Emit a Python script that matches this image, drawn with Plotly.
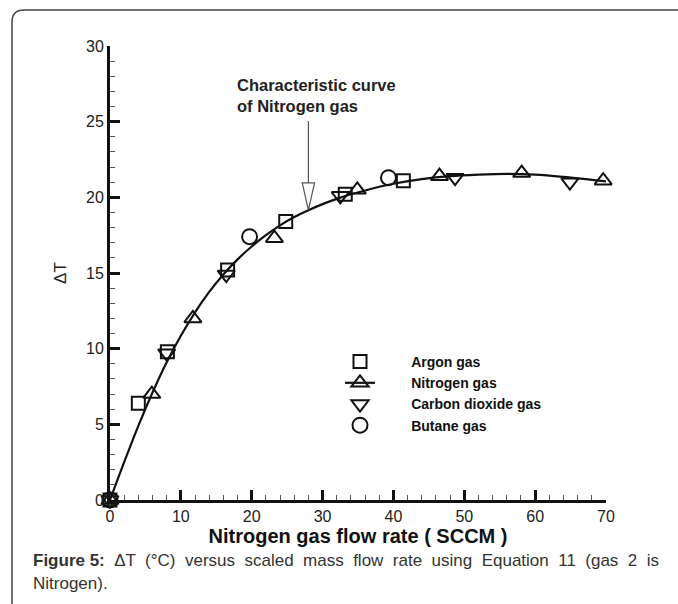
import plotly.graph_objects as go

# ---- data ----
argon_x = [0, 4.0, 8.1, 16.6, 24.8, 33.2, 41.4]
argon_y = [0, 6.4, 9.8, 15.2, 18.4, 20.2, 21.1]

nitrogen_x = [0, 5.9, 11.7, 23.2, 34.9, 46.5, 58.1, 69.6]
nitrogen_y = [0, 7.0, 12.0, 17.3, 20.5, 21.4, 21.6, 21.1]

co2_x = [0, 8.0, 16.4, 32.5, 48.7, 64.9]
co2_y = [0, 9.7, 14.9, 20.1, 21.3, 21.0]

butane_x = [0, 19.7, 39.3]
butane_y = [0, 17.4, 21.3]

# characteristic curve of nitrogen
curve_x = [0, 2, 4, 6, 8, 10, 12, 14, 16, 18, 20, 22, 24, 26, 28, 30, 32, 34, 36, 38, 40, 44, 48, 52, 56, 60, 64, 70]
curve_y = [0, 2.5, 4.9, 7.1, 9.1, 10.85, 12.4, 13.75, 14.9, 15.9, 16.75, 17.5, 18.15, 18.7, 19.15, 19.55,
           19.9, 20.2, 20.45, 20.7, 20.9, 21.2, 21.4, 21.5, 21.55, 21.5, 21.35, 21.05]

x_ticks = [0, 10, 20, 30, 40, 50, 60, 70]
y_ticks = [0, 5, 10, 15, 20, 25, 30]

legend_names = ["Argon gas", "Nitrogen gas", "Carbon dioxide gas", "Butane gas"]

FONT = "Liberation Sans, Arial, sans-serif"
BLK = "#111111"
PAD = "\u00a0" * 8

fig = go.Figure()

fig.add_trace(go.Scatter(
    x=curve_x, y=curve_y, mode="lines", line=dict(color=BLK, width=2.2, shape="spline"),
    showlegend=False, hoverinfo="skip", cliponaxis=False))

mk = dict(color=BLK, line=dict(color=BLK, width=2))
fig.add_trace(go.Scatter(
    x=argon_x, y=argon_y, mode="markers", name=PAD + f"<b>{legend_names[0]}</b>",
    marker=dict(symbol="square-open", size=13, **mk), cliponaxis=False))
fig.add_trace(go.Scatter(
    x=nitrogen_x, y=nitrogen_y, mode="markers", name="n2", showlegend=False,
    marker=dict(symbol="triangle-up-open", size=15, **mk), cliponaxis=False))
fig.add_trace(go.Scatter(
    x=[None], y=[None], mode="lines+markers", name=PAD + f"<b>{legend_names[1]}</b>",
    line=dict(color=BLK, width=2.2),
    marker=dict(symbol="triangle-up-open", size=15, **mk)))
fig.add_trace(go.Scatter(
    x=co2_x, y=co2_y, mode="markers", name=PAD + f"<b>{legend_names[2]}</b>",
    marker=dict(symbol="triangle-down-open", size=15, **mk), cliponaxis=False))
fig.add_trace(go.Scatter(
    x=butane_x, y=butane_y, mode="markers", name=PAD + f"<b>{legend_names[3]}</b>",
    marker=dict(symbol="circle-open", size=15, **mk), cliponaxis=False))

L, R, T, B = 110, 72, 46, 104
W, H = 678, 604
pw, ph = W - L - R, H - T - B

def px(xp):
    return (xp - L) / pw

def py(yp):
    return 1 - (yp - T) / ph

axis_common = dict(
    showgrid=False, zeroline=False, showline=True, linecolor=BLK, linewidth=3,
    ticks="inside", tickcolor=BLK, tickwidth=2.5, ticklen=10,
    tickfont=dict(family=FONT, size=16, color="#222"),
    mirror=False,
)
fig.update_xaxes(
    range=[0, 70], tickvals=x_ticks, ticktext=[str(v) for v in x_ticks],
    minor=dict(dtick=2, ticks="inside", ticklen=5, tickcolor="#555", tickwidth=1),
    title=dict(text="<b>Nitrogen gas flow rate ( SCCM )</b>",
               font=dict(family=FONT, size=20, color="#111"), standoff=0),
    **axis_common)
fig.update_yaxes(
    range=[0, 30], tickvals=y_ticks, ticktext=[str(v) for v in y_ticks],
    minor=dict(dtick=1, ticks="inside", ticklen=5, tickcolor="#555", tickwidth=1),
    title=dict(text="ΔT", font=dict(family=FONT, size=17, color="#222"), standoff=16),
    **axis_common)

# arrow annotation (line + hollow triangle head)
arrow_x = 28.0
fig.add_shape(type="line", x0=arrow_x, x1=arrow_x, y0=25.05, y1=20.95,
              line=dict(color="#555", width=1.2), xref="x", yref="y")
fig.add_shape(type="path",
              path=f"M {arrow_x-0.87},20.95 L {arrow_x+0.87},20.95 L {arrow_x},19.15 Z",
              line=dict(color="#555", width=1.2), fillcolor="white", xref="x", yref="y")
fig.add_annotation(
    x=px(235), y=py(95), xref="paper", yref="paper", xanchor="left", yanchor="middle",
    align="left", showarrow=False,
    text="<b>Characteristic curve<br>of Nitrogen gas</b>",
    font=dict(family=FONT, size=16.5, color="#222"))

# caption (justified look: doubled word spacing on first line)
cap1_words = ["<b>Figure", "5:</b>", "ΔT", "(°C)", "versus", "scaled", "mass", "flow", "rate",
              "using", "Equation", "11", "(gas", "2", "is"]
cap1 = cap1_words[0] + " " + " \u00a0".join(cap1_words[1:])
fig.add_annotation(
    x=px(31), y=py(560), xref="paper", yref="paper", xanchor="left", yanchor="middle",
    align="left", showarrow=False, text=cap1,
    font=dict(family=FONT, size=17, color="#333"))
fig.add_annotation(
    x=px(31), y=py(583), xref="paper", yref="paper", xanchor="left", yanchor="middle",
    align="left", showarrow=False, text="Nitrogen).",
    font=dict(family=FONT, size=17, color="#333"))

# rounded frame
fx0, fy0, rr = 12, 10, 12
fig.add_shape(
    type="path", xref="paper", yref="paper",
    path=(f"M {px(fx0)},{py(H + 20)} L {px(fx0)},{py(fy0 + rr)} "
          f"Q {px(fx0)},{py(fy0)} {px(fx0 + rr)},{py(fy0)} L {px(W + 20)},{py(fy0)}"),
    line=dict(color="#444", width=1.5))

fig.update_layout(
    width=W, height=H, margin=dict(l=L, r=R, t=T, b=B, autoexpand=False),
    paper_bgcolor="white", plot_bgcolor="white",
    showlegend=True,
    legend=dict(x=px(340), y=py(346), xanchor="left", yanchor="top",
                bgcolor="rgba(0,0,0,0)", font=dict(family=FONT, size=14, color="#111"),
                tracegroupgap=0, itemwidth=30),
    font=dict(family=FONT),
)

fig.write_html("out.html")
